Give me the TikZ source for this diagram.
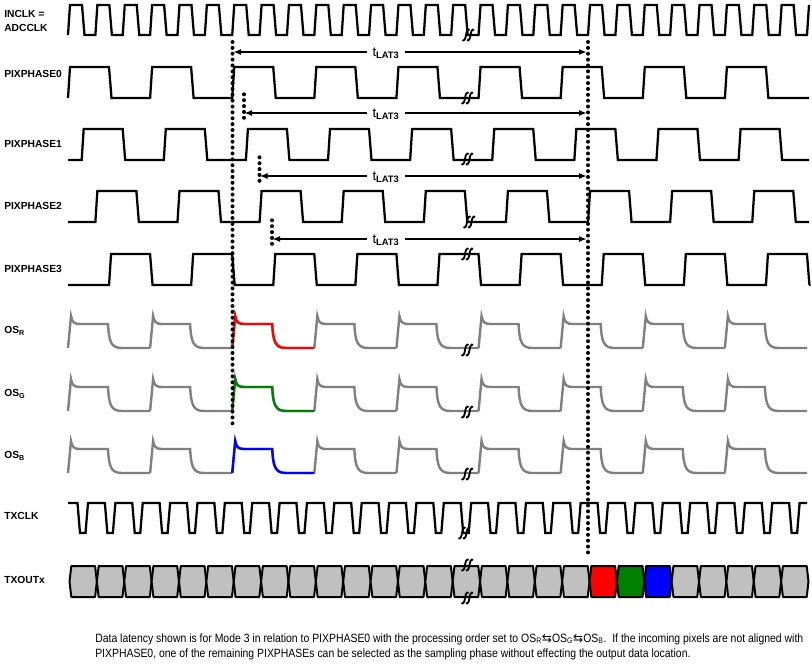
\documentclass[tikz,border=0pt]{standalone}
\usepackage{fontspec}
\setmainfont{Liberation Sans}
\setsansfont{Liberation Sans}
\newfontfamily\narrowfont[FakeStretch=0.87]{Liberation Sans}
\newfontfamily\symfont{DejaVu Sans}
\usetikzlibrary{arrows.meta}

\definecolor{osgray}{RGB}{128,128,128}
\definecolor{osgreen}{RGB}{0,128,0}
\definecolor{cellgray}{RGB}{192,192,192}

\tikzset{
    sig/.style={line width=1.7pt, line join=miter},
    ana/.style={line width=1.8pt, osgray},
    lbl/.style={anchor=west, inner sep=0pt, align=left, font=\fontsize{7.7}{10.5}\selectfont\bfseries},
    lat/.style={fill=white, inner xsep=4pt, inner ysep=0pt, font=\fontsize{10}{11}\selectfont},
    dotln/.style={line width=3pt, line cap=round, dash pattern=on 0pt off 4.4pt},
    latarr/.style={line width=1.5pt, {Latex[length=6pt,width=4.5pt]}-{Latex[length=6pt,width=4.5pt]}},
    ospulse/.pic={
        \draw (0,24) -- (3,-8) .. controls (4,-2) and (6,0) .. (12,0) -- (40,0)
            .. controls (41,18) and (43,24) .. (54,24) -- (82.11,24);
    },
    cut/.pic={
        \foreach \dx in {0,4.5} {
            \draw[line width=1.4pt, black] (-5.5+\dx,5) .. controls (-4+\dx,6.5) and (-2.5+\dx,4) .. (-2+\dx,0)
                .. controls (-1.5+\dx,-4) and (0+\dx,-6.5) .. (1.5+\dx,-5);
        }
    }
}

\begin{document}
\begin{tikzpicture}[x=0.75pt,y=-0.75pt]
    \useasboundingbox (0,0) rectangle (812,671);

    \node[lbl] (inclk) at (4,21) {INCLK =\\ADCCLK};
    \draw[sig] (68,35) \foreach \k in {0,...,26} {
        -- ({68+\k*27.37},35) -- ({70+\k*27.37},5) -- ({82+\k*27.37},5) -- ({84.5+\k*27.37},35)
    } -- (807,35) -- (809,5);

    \foreach \n/\tp/\lb in {0/67/74, 1/129/144, 2/191/206, 3/254/269} {
        \pgfmathsetmacro\bt{\tp+31}
        \draw[sig] (68,\bt) \foreach \k in {0,...,8} {
            -- ({68+13.685*\n+82.11*\k},\bt) -- ({70+13.685*\n+82.11*\k},\tp)
            -- ({109+13.685*\n+82.11*\k},\tp) -- ({111.5+13.685*\n+82.11*\k},\bt)
        } -- (809,\bt);
        \node[lbl] (ph\n) at (4,\lb) {PIXPHASE\n};
    }

    \foreach \c/\pl/\lb in {R/324/331, G/387/394, B/449/456} {
        \foreach \k in {0,...,8}
            \pic[ana] at ({68+82.11*\k},\pl) {ospulse};
        \node[lbl] (os\c) at (4,\lb) {OS\textsubscript{\c}};
    }
    \pic[ana, red] at (232.22,324) {ospulse};
    \pic[ana, osgreen] at (232.22,387) {ospulse};
    \pic[ana, blue] at (232.22,449) {ospulse};

    \node[lbl] (txclk) at (4,516) {TXCLK};
    \draw[sig] (68,503) \foreach \k in {0,...,26} {
        -- ({77.5+\k*27.37},503) -- ({80+\k*27.37},533) -- ({85.5+\k*27.37},533) -- ({88+\k*27.37},503)
    } -- (807,503);

    \node[lbl] (txout) at (4,580) {TXOUTx};
    \foreach \i in {0,...,26} {
        \pgfmathsetmacro\xa{69.5+\i*27.37}
        \pgfmathsetmacro\xb{\xa+27.37}
        \def\fc{cellgray}
        \ifnum\i=19 \def\fc{red}\fi
        \ifnum\i=20 \def\fc{osgreen}\fi
        \ifnum\i=21 \def\fc{blue}\fi
        \filldraw[fill=\fc, line width=1.5pt, line join=round] (\xa,581.5) -- (\xa+1.8,566) -- (\xb-1.8,566)
            -- (\xb,581.5) -- (\xb-1.8,597) -- (\xa+1.8,597) -- cycle;
    }

    \foreach \n/\xl/\y in {0/233/52, 1/244/113, 2/259.5/176, 3/272/239} {
        \coordinate (l\n) at (\xl,\y);
        \coordinate (r\n) at (587,\y);
        \draw[latarr] (l\n) -- (r\n);
        \node[lat] (t\n) at (386,\y+1) {t\textsubscript{\bfseries LAT3}};
    }
    \foreach \n in {1,2,3}
        \draw[dotln] ([yshift=14pt]l\n) -- ([yshift=-7pt]l\n);

    \draw[dotln] (232.5,42) -- (232.5,428);
    \draw[dotln] (588,42) -- (588,556);

    \foreach \x/\y in {468/35, 467/98, 467/159, 469/222, 467/254, 467/350, 467/412, 467/474, 464/533, 467/565, 467/598}
        \pic at (\x,\y) {cut};

    \node[anchor=west, inner sep=0pt, font=\narrowfont\fontsize{9}{11}\selectfont] (cap1) at (95,639)
        {Data latency shown is for Mode 3 in relation to PIXPHASE0 with the processing order set to OS\textsubscript{R}{\symfont ⇆}OS\textsubscript{G}{\symfont ⇆}OS\textsubscript{B}.\ \ If the incoming pixels are not aligned with};
    \node[anchor=west, inner sep=0pt, font=\narrowfont\fontsize{9}{11}\selectfont] (cap2) at (95,654)
        {PIXPHASE0, one of the remaining PIXPHASEs can be selected as the sampling phase without effecting the output data location.};
\end{tikzpicture}
\end{document}
